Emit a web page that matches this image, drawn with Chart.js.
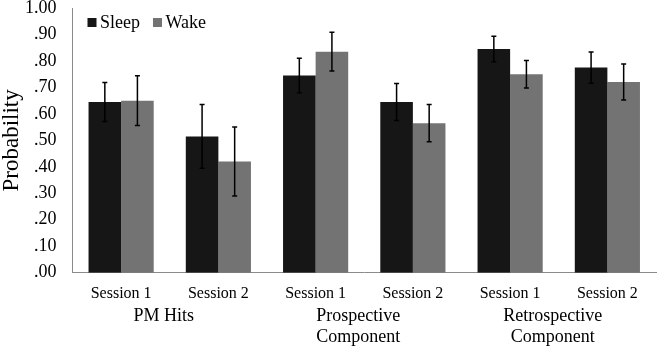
<!DOCTYPE html>
<html>
<head>
<meta charset="utf-8">
<script src="https://cdn.jsdelivr.net/npm/chart.js@4"></script>
<style>
  html, body { margin: 0; padding: 0; background: #fff; }
</style>
</head>
<body>
<canvas id="probChart" width="657" height="348"></canvas>
<script>
// data
const sessions = ["Session 1", "Session 2", "Session 1", "Session 2", "Session 1", "Session 2"];
const groupNames = [["PM Hits"], ["Prospective", "Component"], ["Retrospective", "Component"]];
const sleepMeans = [0.645, 0.515, 0.745, 0.645, 0.845, 0.775];
const wakeMeans = [0.65, 0.42, 0.835, 0.565, 0.75, 0.72];
const sleepErr = [0.074, 0.12, 0.065, 0.07, 0.048, 0.059];
const wakeErr = [0.094, 0.13, 0.073, 0.07, 0.052, 0.068];
const yTicks = [0, 0.1, 0.2, 0.3, 0.4, 0.5, 0.6, 0.7, 0.8, 0.9, 1.0];

const serif = "'Liberation Serif', serif";
const errors = [sleepErr, wakeErr];

// error bars on top of each bar
const errorBars = {
    id: "errorBars",
    afterDatasetsDraw(chart) {
        const ctx = chart.ctx;
        const y = chart.scales.y;
        ctx.save();
        ctx.strokeStyle = "#000";
        ctx.lineWidth = 1.5;
        chart.data.datasets.forEach((ds, i) => {
            chart.getDatasetMeta(i).data.forEach((bar, j) => {
                const hi = y.getPixelForValue(ds.data[j] + errors[i][j]);
                const lo = y.getPixelForValue(ds.data[j] - errors[i][j]);
                ctx.beginPath();
                ctx.moveTo(bar.x, hi);
                ctx.lineTo(bar.x, lo);
                ctx.moveTo(bar.x - 2.5, hi);
                ctx.lineTo(bar.x + 2.5, hi);
                ctx.moveTo(bar.x - 2.5, lo);
                ctx.lineTo(bar.x + 2.5, lo);
                ctx.stroke();
            });
        });
        ctx.restore();
    }
};

// legend inside the plot, top left
const insideLegend = {
    id: "insideLegend",
    afterDraw(chart) {
        const ctx = chart.ctx;
        const area = chart.chartArea;
        ctx.save();
        ctx.font = "18px " + serif;
        ctx.textBaseline = "alphabetic";
        let x = area.left + 15;
        chart.data.datasets.forEach(ds => {
            ctx.fillStyle = ds.backgroundColor;
            ctx.fillRect(x, area.top + 10, 9, 9);
            ctx.fillStyle = "#000";
            ctx.fillText(ds.label, x + 12.5, area.top + 20);
            x += 12.5 + ctx.measureText(ds.label).width + 13;
        });
        ctx.restore();
    }
};

// second level of category labels
const groupLabels = {
    id: "groupLabels",
    afterDraw(chart) {
        const ctx = chart.ctx;
        const xs = chart.scales.x;
        const base = chart.chartArea.bottom;
        ctx.save();
        ctx.font = "18px " + serif;
        ctx.fillStyle = "#000";
        ctx.textAlign = "center";
        ctx.textBaseline = "alphabetic";
        groupNames.forEach((lines, g) => {
            const cx = (xs.getPixelForValue(2 * g) + xs.getPixelForValue(2 * g + 1)) / 2 - 6;
            lines.forEach((t, k) => {
                ctx.fillText(t, cx, base + 48 + k * 21);
            });
        });
        ctx.restore();
    }
};

new Chart(document.getElementById("probChart"), {
    type: "bar",
    data: {
        labels: sessions,
        datasets: [{
            label: "Sleep",
            data: sleepMeans,
            backgroundColor: "#161616",
            categoryPercentage: 0.67,
            barPercentage: 1.0
        }, {
            label: "Wake",
            data: wakeMeans,
            backgroundColor: "#737373",
            categoryPercentage: 0.67,
            barPercentage: 1.0
        }]
    },
    options: {
        responsive: false,
        animation: false,
        devicePixelRatio: 1,
        layout: { padding: { top: 8, right: 1, left: 0, bottom: 0 } },
        plugins: {
            legend: { display: false },
            tooltip: { enabled: false }
        },
        scales: {
            x: {
                grid: { display: false, drawTicks: false },
                border: { color: "#8a8a8a", width: 1 },
                ticks: {
                    color: "#000",
                    font: { family: serif, size: 16 },
                    maxRotation: 0,
                    autoSkip: false,
                    padding: 11
                },
                afterFit(scale) {
                    scale.height = 75.3;
                    scale.paddingLeft = 0;
                    scale.paddingRight = 0;
                }
            },
            y: {
                min: 0,
                max: 1,
                grid: { display: false, drawTicks: false },
                border: { color: "#8a8a8a", width: 1 },
                afterBuildTicks(scale) {
                    scale.ticks = yTicks.map(v => ({ value: v }));
                },
                ticks: {
                    color: "#000",
                    font: { family: serif, size: 18 },
                    padding: 16,
                    callback: v => v.toFixed(2).replace(/^0/, "")
                },
                title: {
                    display: true,
                    text: "Probability",
                    color: "#000",
                    font: { family: serif, size: 23, lineHeight: 1.0 },
                    padding: 0
                },
                afterFit(scale) {
                    scale.width = 72.5;
                    scale.paddingTop = 0;
                    scale.paddingBottom = 0;
                }
            }
        }
    },
    plugins: [errorBars, insideLegend, groupLabels]
});
</script>
</body>
</html>
